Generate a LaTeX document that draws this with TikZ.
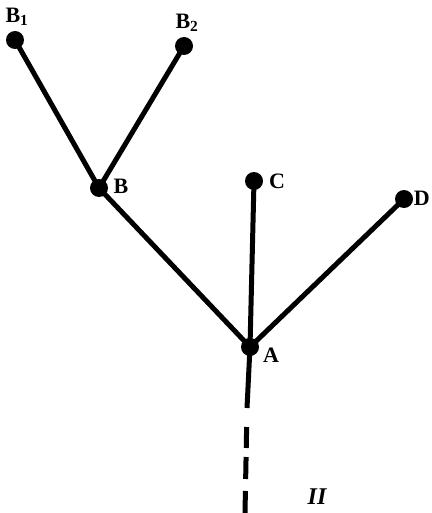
\documentclass[tikz,border=0pt]{standalone}
\usepackage{fontspec}
\setmainfont{Liberation Serif}
\usepackage{tikz}
\usetikzlibrary{positioning}

\tikzset{
    dot/.style={circle, fill=black, inner sep=0pt, minimum size=18pt},
    branch/.style={line width=5pt},
    lbl/.style={font=\fontsize{22}{22}\selectfont\bfseries, inner sep=0pt}
}

\begin{document}
\begin{tikzpicture}[x=1pt, y=-1pt]
    \useasboundingbox (0,0) rectangle (431,513);
    % points
    \node[dot] (b1) at (15, 40) {};
    \node[dot] (b2) at (184, 46) {};
    \node[dot] (b) at (99, 188) {};
    \node[dot] (c) at (254, 181) {};
    \node[dot] (d) at (404, 199) {};
    \node[dot] (a) at (250, 347) {};
    \coordinate (mid) at (247, 408);
    \coordinate (low) at (245, 513);
    % labels
    \node[lbl] (lb1) at (17, 17) {B\textsubscript{1}};
    \node[lbl] (lb2) at (187, 23) {B\textsubscript{2}};
    \node[lbl] (lb) at (121, 186) {B};
    \node[lbl] (lc) at (277, 181) {C};
    \node[lbl, anchor=east] (ld) at (430, 198) {D};
    \node[lbl] (la) at (271, 355) {A};
    \node[font=\fontsize{24}{24}\selectfont\bfseries\itshape, inner sep=1pt, anchor=south] (mark) at (317, 506) {II};
    % branches
    \draw[branch] (b1.center) -- (b.center) -- (a.center);
    \draw[branch] (b2.center) -- (b.center);
    \draw[branch] (c.center) -- (a.center);
    \draw[branch] (d.center) -- (a.center);
    \draw[branch] (a.center) -- (mid);
    \draw[branch, dash pattern=on 0pt off 19pt on 21pt off 9pt on 22pt off 12pt on 30pt] (mid) -- (low);
\end{tikzpicture}
\end{document}
